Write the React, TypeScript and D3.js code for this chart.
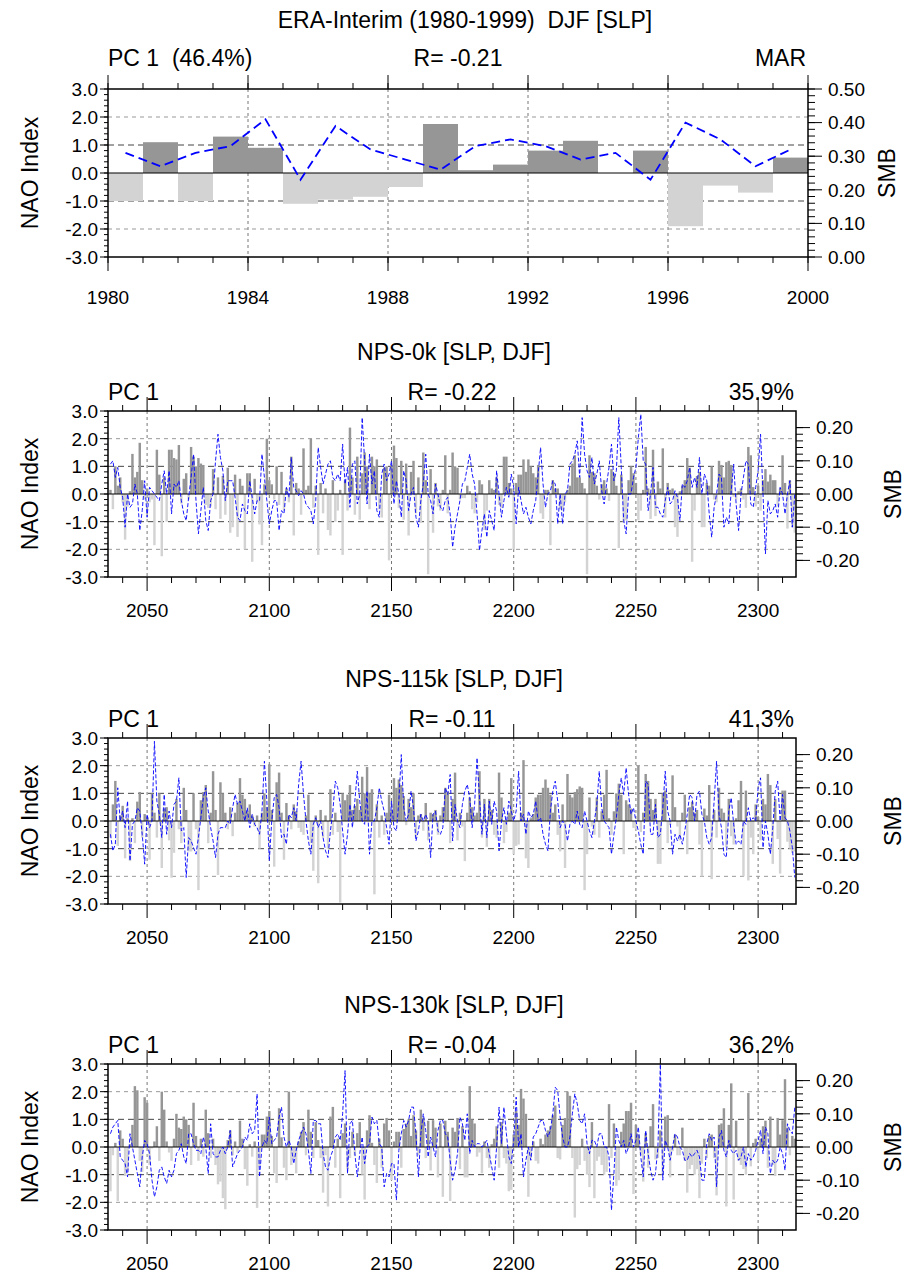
import React from 'react';
import * as d3 from 'd3';

const FONT = "'Liberation Sans', Arial, Helvetica, sans-serif";
const DARK = '#969696';
const LIGHT = '#d3d3d3';
const BLUE = '#0000ff';
const TXT = 23;
const TICK = 19;

// ERA-Interim, DJF 1980-1999
const eraYears = d3.range(1980, 2000);
const eraNao = [-1.0, 1.1, -1.0, 1.3, 0.9, -1.1, -0.95, -0.85, -0.5, 1.75,
  0.1, 0.3, 0.8, 1.15, 0.0, 0.8, -1.9, -0.45, -0.7, 0.55];
const eraSmb = [0.31, 0.27, 0.31, 0.33, 0.41, 0.23, 0.39, 0.32, 0.29, 0.26,
  0.33, 0.35, 0.33, 0.29, 0.31, 0.23, 0.4, 0.35, 0.27, 0.32];

// NPS runs, one value per year from 2035 to 2315
const npsStart = 2035;

const nps0kNao = [
  0.15, -0.55, 1.0, 0.3, 0.6, -0.3, -1.65, -0.45, 0.1, 1.45,
  0.6, 0.8, 1.85, 0.5, -0.2, 0.2, -0.3, -0.2, -1.85, 1.6,
  0.7, -2.25, 0.6, -1.0, 1.6, 1.6, 1.3, 1.25, 1.77, -0.35,
  0.55, 0.75, -0.2, 1.7, 1.35, 1.0, 1.3, 1.1, 1.05, -0.4,
  -0.5, -0.45, 0.9, -0.55, 0.6, -0.9, 0.65, -0.75, 0.95, -1.4,
  -1.2, 0.7, -1.55, 0.55, 0.3, -2.0, 0.75, 0.75, -2.45, 0.55,
  -0.3, -1.1, -1.85, 0.35, 2.0, 0.5, 0.35, -0.2, 1.0, -0.4,
  0.8, -0.6, 0.2, -0.3, 1.35, -1.5, 0.4, 0.2, -0.75, 1.65,
  0.15, 0.3, 2.0, -0.5, 0.3, -2.2, 0.4, -0.7, 0.2, -1.3,
  -1.5, 0.5, -1.0, -0.6, 0.15, -2.2, 0.5, -0.6, 2.4, 0.6,
  -0.75, 1.35, -0.93, 0.75, 1.5, 1.0, -0.55, 1.35, 1.0, 1.25,
  -0.55, -0.85, 0.95, 1.0, -2.4, 1.05, 1.75, 1.3, -0.5, 1.2,
  -0.93, 1.1, -1.5, 0.8, 1.2, -0.7, 0.6, -1.05, 1.5, 0.5,
  -2.9, 0.9, -1.4, 0.4, -0.45, -0.6, 0.15, 1.4, -0.7, 0.15,
  1.5, 1.0, 0.95, -0.2, -0.15, -0.15, 0.3, 0.1, -0.55, -0.7,
  -0.3, 0.5, 0.35, -1.3, -0.6, 0.5, 0.2, 0.15, 0.6, -0.4,
  -0.5, 1.35, 1.35, 0.4, 0.2, -2.0, 0.4, 0.7, 0.7, 1.25,
  0.8, 1.25, 1.0, 0.75, 0.6, 1.05, -0.7, -0.9, 0.15, 0.15,
  -1.85, 0.5, 0.2, 0.2, -0.55, -0.6, -0.3, 0.15, 0.3, 1.1,
  1.4, 0.6, 0.6, 0.4, 0.2, -2.9, 1.4, 0.8, 0.75, 0.3,
  -0.2, 0.35, 0.5, 0.2, -0.25, 0.9, 0.75, 0.3, -1.95, 0.7,
  -1.0, -0.95, 0.5, 1.0, 0.75, 0.4, -0.95, -0.6, 0.15, 1.7,
  0.2, -0.9, 1.6, -0.8, 0.45, 0.2, 1.65, -0.85, 0.4, 0.15,
  0.2, -1.2, -1.55, 0.1, 0.3, 0.5, 1.3, 0.95, -2.45, -0.6,
  0.65, 0.8, -1.2, -1.2, 0.4, 0.3, 1.0, -0.2, -0.3, 1.2,
  1.05, 0.6, 1.15, 1.2, 1.05, -0.1, -0.2, 0.1, 0.2, -0.2,
  -0.5, 1.7, 1.4, 0.25, -0.45, 0.3, -0.6, 0.5, 0.9, 0.45,
  0.7, 0.5, 0.5, -0.45, 0.2, 1.4, 0.4, -1.25, 0.5, -1.2,
  -1.4,
];
const nps0kSmb = [
  0.09, 0.10, 0.05, 0.08, 0.02, -0.01, -0.10, 0.0, -0.04, -0.03,
  0.03, 0.0, -0.11, -0.05, 0.04, -0.07, 0.02, 0.01, 0.0, -0.01,
  -0.02, 0.03, 0.07, 0.0, 0.07, -0.06, 0.03, 0.02, 0.04, -0.02,
  -0.06, -0.08, -0.01, 0.05, 0.12, -0.02, -0.12, -0.05, 0.02, -0.08,
  -0.11, -0.02, 0.0, 0.10, 0.18, 0.11, 0.07, -0.02, 0.04, 0.04,
  0.04, -0.01, -0.07, -0.08, -0.03, -0.05, -0.06, 0.04, -0.01, -0.06,
  -0.02, -0.02, 0.12, 0.05, -0.02, -0.09, -0.05, -0.02, -0.02, -0.11,
  -0.05, -0.06, 0.02, -0.01, 0.11, 0.02, 0.01, -0.005, 0.01, 0.0,
  -0.03, -0.04, -0.05, -0.09, -0.02, 0.14, 0.08, 0.03, 0.06, 0.09,
  0.10, 0.05, 0.04, 0.06, 0.04, 0.15, 0.03, 0.08, -0.04, 0.09,
  0.10, -0.03, 0.0, 0.23, 0.10, -0.03, 0.12, 0.03, 0.07, -0.05,
  -0.07, 0.06, 0.09, 0.04, 0.06, 0.10, -0.03, 0.04, 0.0, -0.07,
  0.07, 0.04, -0.05, 0.0, 0.02, -0.07, -0.10, -0.02, 0.03, 0.12,
  0.0, -0.02, -0.06, 0.03, 0.0, -0.04, -0.05, -0.02, -0.01, -0.06,
  -0.16, -0.10, -0.06, -0.02, 0.03, 0.04, 0.08, 0.12, 0.06, 0.03,
  -0.06, -0.17, -0.11, -0.06, -0.13, -0.05, -0.08, -0.11, 0.07, 0.0,
  -0.07, -0.02, 0.02, -0.01, 0.06, 0.02, -0.09, 0.02, -0.02, -0.06,
  -0.04, -0.07, -0.09, -0.05, -0.02, 0.06, 0.14, 0.03, -0.04, 0.0,
  0.01, 0.04, 0.03, -0.09, 0.0, -0.09, 0.0, 0.01, 0.09, 0.10,
  0.12, 0.16, 0.05, 0.23, 0.12, 0.07, 0.05, 0.11, 0.03, 0.06,
  0.10, 0.01, -0.03, 0.03, 0.08, 0.15, 0.04, 0.07, 0.23, 0.08,
  -0.08, -0.12, 0.0, 0.0, 0.05, 0.08, 0.17, 0.24, 0.10, 0.09,
  -0.05, 0.0, 0.08, -0.04, -0.04, -0.06, -0.07, -0.02, 0.02, -0.03,
  -0.02, 0.01, -0.01, -0.08, 0.03, 0.02, 0.04, 0.08, 0.02, 0.05,
  0.02, 0.11, 0.0, 0.06, 0.04, -0.06, -0.13, -0.04, 0.0, 0.06,
  0.05, -0.10, -0.07, -0.09, 0.01, 0.09, -0.03, -0.11, 0.0, 0.05,
  0.10, 0.09, -0.03, -0.04, 0.02, 0.07, 0.18, 0.0, -0.18, -0.02,
  -0.06, -0.05, -0.03, -0.07, 0.02, 0.0, -0.06, 0.0, 0.04, -0.10,
  0.0,
];

const nps115kNao = [
  -0.6, 0.6, 1.45, -0.9, 0.2, 0.55, -1.35, 0.1, -1.45, 0.1,
  -0.8, 0.7, 1.05, -0.6, 0.25, 0.15, -1.4, 1.0, 0.3, -0.6,
  1.0, -1.7, 0.45, 0.5, -0.7, -2.05, -1.15, 0.8, -0.3, -0.8,
  1.2, 0.4, -1.1, -1.1, 1.0, -0.3, -2.5, 0.75, 1.05, 1.3,
  -0.8, 0.3, 1.8, 0.4, -1.95, 1.4, 1.0, 0.3, -0.3, 0.5,
  -0.55, 0.3, 0.65, 1.55, 0.95, 0.8, 0.35, 0.6, 0.2, -0.2,
  0.2, -1.0, 0.3, 1.0, 0.5, 2.05, 0.4, -1.65, 1.4, 1.75,
  0.3, -1.4, 0.65, 0.2, -0.3, 0.6, 0.35, -0.25, -0.4, -0.5,
  0.2, 0.95, -0.8, -1.8, 0.2, -2.25, 0.4, -0.6, 0.2, -1.0,
  1.15, -0.5, 0.3, -0.4, -2.95, 1.0, 0.75, 0.95, 1.3, 0.4,
  0.55, 0.8, 0.4, 1.6, 1.0, 1.95, 1.0, 1.15, -2.65, 0.6,
  -0.6, 0.2, -0.5, 0.3, 0.95, 0.4, 1.55, 1.2, 1.5, 1.3,
  0.9, -0.15, 0.8, 0.5, 1.0, -0.6, 0.2, 0.25, -0.35, 0.65,
  -0.7, 0.3, 0.25, 0.4, -0.5, 0.2, 0.5, 1.2, 1.05, -0.8,
  0.8, 1.75, -0.7, 0.3, -0.2, -1.45, 0.3, 0.85, 0.5, 0.2,
  0.3, 1.8, -0.6, 0.8, -0.93, 0.8, 0.4, -0.5, -0.6, 1.75,
  0.85, -0.8, -0.4, 0.3, 1.55, -1.2, -0.9, -0.85, 0.3, 2.2,
  -1.35, -1.7, 0.1, 0.25, 0.85, 0.95, 0.95, 1.2, 1.5, 1.2,
  0.95, 0.3, 0.6, -0.5, -1.1, 0.6, -1.7, 1.7, 0.95, 0.85,
  1.05, 1.15, 1.25, 1.2, -2.5, -1.2, 0.85, -0.2, -0.5, 0.85,
  -0.6, 0.35, 0.95, 1.85, 0.1, -0.5, 0.35, 1.0, 1.35, 0.95,
  -1.2, 0.75, 0.6, 0.45, -0.25, -0.3, 2.0, -0.4, 0.3, 1.7,
  1.45, 0.8, 0.4, 0.8, -1.55, -1.55, 1.0, 1.1, -0.8, -0.15,
  1.65, 0.5, -0.2, -0.7, 0.3, 0.95, -1.2, 0.5, 0.7, 0.3,
  0.4, -0.85, -2.0, 0.45, 0.2, 1.3, -2.1, 0.4, -0.6, 1.2,
  0.45, 0.3, -0.95, 0.8, -0.55, -0.85, 0.1, 0.75, 1.45, -2.0,
  1.1, -2.15, -0.6, -1.2, 0.6, 0.15, -0.7, 0.8, 0.6, 1.7,
  1.3, -1.55, 0.8, -0.65, -1.9, 1.1, 1.1, -0.75, -1.0, -1.15,
  -1.1,
];
const nps115kSmb = [
  -0.04, -0.09, -0.07, 0.10, 0.0, 0.03, -0.02, 0.06, -0.12, -0.01,
  0.0, 0.04, 0.03, -0.04, -0.13, 0.02, -0.02, 0.0, 0.24, 0.06,
  0.02, -0.05, 0.08, -0.04, 0.03, -0.02, 0.05, 0.06, 0.13, -0.03,
  -0.02, -0.17, -0.05, -0.06, -0.08, -0.10, -0.05, 0.01, 0.07, 0.10,
  0.03, -0.02, -0.06, -0.11, -0.04, -0.02, -0.02, -0.02, 0.0, -0.01,
  0.04, 0.08, 0.05, 0.06, 0.03, 0.0, 0.04, -0.02, 0.02, -0.01,
  -0.02, -0.04, 0.03, 0.18, 0.06, -0.12, 0.0, 0.07, 0.08, 0.04,
  -0.05, -0.04, -0.07, 0.02, 0.01, 0.04, 0.0, 0.11, 0.18, 0.08,
  0.0, -0.06, -0.10, -0.01, 0.01, -0.02, 0.0, -0.05, -0.09, -0.11,
  -0.03, 0.03, 0.12, 0.10, 0.05, -0.03, -0.10, -0.04, 0.05, -0.02,
  0.06, 0.15, 0.06, 0.0, -0.01, 0.09, -0.10, 0.0, 0.0, 0.04,
  0.10, 0.06, 0.03, -0.02, -0.07, 0.06, -0.02, -0.03, 0.06, 0.20,
  0.04, 0.0, 0.02, 0.09, 0.04, -0.06, -0.03, 0.02, 0.0, 0.02,
  0.0, -0.11, 0.02, 0.03, -0.03, -0.04, -0.02, 0.10, 0.08, 0.14,
  -0.06, 0.05, 0.0, -0.02, 0.05, 0.09, 0.11, 0.07, -0.02, 0.05,
  0.19, 0.07, -0.04, 0.05, -0.05, 0.06, -0.01, 0.06, 0.03, -0.09,
  0.0, 0.04, -0.01, 0.06, 0.03, 0.0, 0.03, 0.15, 0.0, 0.02,
  -0.04, 0.03, 0.01, 0.02, 0.06, 0.0, 0.01, -0.04, -0.07, -0.09,
  0.03, 0.09, 0.12, 0.06, -0.02, 0.0, -0.01, -0.06, -0.01, 0.0,
  -0.01, 0.03, -0.01, -0.02, 0.03, 0.0, -0.03, -0.05, 0.0, 0.05,
  0.15, 0.04, 0.0, -0.01, -0.02, -0.10, -0.04, 0.01, 0.08, 0.13,
  0.08, 0.16, 0.08, 0.02, 0.04, 0.0, -0.03, -0.07, -0.10, 0.12,
  0.11, -0.04, -0.04, 0.05, -0.05, -0.04, 0.04, 0.15, 0.03, 0.0,
  -0.10, -0.04, -0.06, -0.04, -0.07, -0.03, 0.02, 0.08, 0.07, 0.0,
  0.08, 0.09, 0.02, 0.0, -0.05, -0.07, -0.05, 0.06, 0.18, 0.02,
  -0.02, -0.10, -0.11, 0.03, 0.07, -0.01, -0.07, -0.06, -0.07, 0.0,
  -0.01, 0.04, 0.0, 0.01, 0.0, 0.10, 0.13, -0.08, 0.0, -0.04,
  -0.10, -0.02, 0.09, 0.12, 0.0, 0.08, 0.01, 0.0, -0.03, -0.08,
  -0.17,
];

const nps130kNao = [
  -1.6, -0.3, 0.15, -1.95, 0.6, 0.3, -1.05, -0.9, 0.1, 0.8,
  2.2, 2.05, -0.5, -0.9, 1.8, 1.6, -0.65, -0.05, 0.2, 0.75,
  -0.5, 2.0, 1.35, 0.2, -0.2, -0.5, 0.3, 1.2, 0.7, 0.65,
  1.1, 1.0, 0.8, -0.65, 1.6, 0.4, -0.5, 0.3, -0.35, 1.35,
  0.5, -0.4, 0.3, -0.65, -1.35, -1.25, -1.85, -2.25, 0.25, 0.6,
  -0.3, 0.2, -0.2, 0.95, 0.3, -0.8, -1.4, 0.1, -0.35, 0.2,
  -2.2, -0.7, 0.45, 0.45, 1.1, 1.3, 0.4, -0.95, -1.3, 1.4,
  0.35, -0.75, -1.2, 2.0, -0.65, -0.4, -0.95, 0.2, 0.55, 0.9,
  -0.3, 1.35, 0.55, -0.4, 0.9, 0.25, -0.4, -1.65, -0.3, -2.15,
  1.1, 1.45, -0.75, 0.3, -1.85, 0.5, 0.85, -0.8, -0.4, 0.55,
  -0.3, 0.5, 0.9, -1.0, -1.9, 0.6, 1.15, 0.15, -0.65, -1.3,
  0.3, -0.75, 0.85, 1.05, 0.6, -1.2, 0.2, 0.55, 0.55, -0.75,
  0.65, 0.85, 1.0, 0.4, 1.15, 0.6, -0.3, 1.35, 1.05, -0.4,
  0.95, -0.85, 0.97, 0.7, -1.1, 0.85, -1.8, 0.95, 0.55, -1.95,
  0.7, 0.55, 1.05, -0.8, 0.75, -1.1, -1.1, 2.2, 1.0, 0.85,
  -0.35, -0.2, -0.95, 0.2, -0.4, -0.75, 0.1, 0.3, 0.75, -0.75,
  0.9, -0.4, -0.6, -1.6, -1.55, 0.45, 1.3, 0.8, 2.1, 1.75,
  1.2, -1.8, -0.4, 0.2, -0.5, -0.6, 0.3, 0.1, 0.45, 0.6,
  0.75, 1.15, 1.5, -0.4, -0.45, 0.8, 1.05, 2.0, 1.85, -0.4,
  -2.55, -0.8, -0.65, 0.3, -0.5, -1.0, -1.45, 0.9, -1.85, -0.5,
  -0.35, -0.65, -1.0, -0.9, 1.55, -0.4, 0.85, -1.4, -1.2, 0.55,
  0.85, 1.3, 1.3, 1.6, -1.7, 0.8, 0.45, -0.3, -1.25, 0.5,
  -0.75, 0.75, 1.55, -0.45, -0.4, 0.6, -1.0, 1.1, 1.15, -1.1,
  -0.15, 0.45, -0.3, -0.3, 0.7, -0.5, -1.65, -0.8, -0.65, -1.0,
  -0.8, -1.85, -0.6, 0.3, -0.4, 0.4, 0.45, -0.4, -1.75, 0.8,
  0.85, 1.4, -2.15, 0.8, 2.3, -1.9, 0.95, -0.5, -0.65, -0.8,
  -1.0, 1.95, -0.7, 0.15, 0.3, -0.5, 0.3, 0.75, 0.95, -0.75,
  1.1, -0.65, -1.05, 1.05, 0.45, 0.97, 2.45, 0.7, -0.3, 0.4,
  0.3,
];
const nps130kSmb = [
  0.04, 0.06, 0.07, 0.08, -0.03, -0.04, -0.05, -0.09, 0.04, 0.0,
  -0.04, -0.08, -0.12, -0.03, 0.02, 0.01, -0.02, -0.10, -0.15, -0.12,
  -0.07, -0.06, -0.09, -0.11, -0.07, -0.09, -0.07, -0.02, -0.01, 0.01,
  -0.03, -0.05, 0.04, 0.04, 0.01, -0.01, -0.01, -0.02, 0.03, 0.0,
  -0.08, 0.07, -0.02, -0.03, -0.03, -0.01, 0.0, -0.02, 0.0, 0.05,
  -0.06, -0.04, -0.02, -0.01, 0.0, 0.03, 0.02, 0.07, 0.04, 0.05,
  0.16, -0.09, 0.0, 0.02, 0.01, 0.09, 0.01, 0.02, 0.03, 0.09,
  0.12, 0.03, 0.0, 0.02, 0.0, -0.05, -0.01, 0.02, 0.04, 0.06,
  0.04, -0.01, -0.08, 0.08, 0.08, 0.07, 0.07, -0.02, -0.06, -0.07,
  -0.03, -0.01, 0.03, 0.04, 0.02, 0.10, 0.23, -0.08, 0.07, 0.08,
  -0.02, -0.09, -0.02, 0.03, -0.05, 0.0, 0.01, 0.09, 0.07, 0.08,
  0.01, 0.0, -0.12, -0.08, -0.09, -0.05, -0.05, -0.16, -0.01, 0.04,
  0.08, 0.06, 0.08, 0.12, 0.12, 0.04, -0.09, 0.04, 0.10, 0.05,
  -0.03, 0.03, 0.0, -0.03, 0.05, 0.08, 0.08, 0.04, 0.03, -0.04,
  -0.10, -0.07, -0.02, 0.09, 0.07, 0.02, 0.10, -0.02, 0.02, 0.0,
  0.01, 0.01, 0.0, 0.01, 0.02, -0.02, -0.06, -0.10, 0.0, 0.12,
  0.01, 0.12, 0.04, -0.03, -0.05, 0.02, 0.15, 0.0, 0.04, -0.09,
  -0.04, 0.0, -0.04, 0.03, 0.04, 0.06, 0.08, 0.08, 0.05, 0.03,
  0.05, 0.10, 0.18, 0.17, 0.09, 0.03, 0.0, 0.0, 0.03, 0.10,
  0.16, 0.13, 0.08, 0.07, 0.10, 0.01, -0.02, 0.02, 0.02, 0.0,
  0.04, 0.04, 0.0, 0.0, -0.03, -0.19, -0.08, 0.06, 0.02, 0.0,
  0.02, -0.02, 0.0, 0.04, 0.0, 0.02, 0.06, -0.03, -0.09, 0.05,
  -0.02, -0.07, -0.10, -0.08, 0.0, 0.25, -0.10, 0.02, 0.0, -0.04,
  0.0, 0.04, 0.03, 0.0, -0.01, -0.04, -0.04, -0.02, -0.03, -0.02,
  -0.01, -0.03, -0.10, -0.10, 0.01, 0.04, 0.02, 0.03, -0.12, 0.03,
  0.05, -0.01, -0.03, 0.02, -0.01, -0.02, -0.01, -0.04, -0.03, 0.0,
  -0.06, -0.02, -0.04, -0.03, -0.01, 0.02, 0.05, -0.02, 0.06, 0.04,
  -0.08, -0.04, -0.05, -0.04, 0.0, -0.02, -0.07, 0.07, 0.05, 0.04,
  0.12,
];

const npsPanels = [
  { title: 'NPS-0k [SLP, DJF]', r: 'R= -0.22', pct: '35.9%', nao: nps0kNao, smb: nps0kSmb, top: 411 },
  { title: 'NPS-115k [SLP, DJF]', r: 'R= -0.11', pct: '41.3%', nao: nps115kNao, smb: nps115kSmb, top: 738 },
  { title: 'NPS-130k [SLP, DJF]', r: 'R= -0.04', pct: '36.2%', nao: nps130kNao, smb: nps130kSmb, top: 1064 },
];

type Lin = d3.ScaleLinear<number, number>;

const naoMajors = d3.range(-3, 4);
const naoMinors = d3.range(-15, 16).map((i) => i / 5);

function LeftAxis({ y, x0 }: { y: Lin; x0: number }) {
  return (
    <g>
      {naoMinors.map((v, i) => (
        <line key={'n' + i} x1={x0} x2={x0 - 4} y1={y(v)} y2={y(v)} stroke="#000" />
      ))}
      {naoMajors.map((v) => (
        <g key={v}>
          <line x1={x0} x2={x0 - 8} y1={y(v)} y2={y(v)} stroke="#000" />
          <text x={x0 - 10} y={y(v)} dy="0.36em" textAnchor="end" fontSize={TICK}>{v.toFixed(1)}</text>
        </g>
      ))}
    </g>
  );
}

function RightAxis({ y, x0, lo, hi }: { y: Lin; x0: number; lo: number; hi: number }) {
  const majors = d3.range(lo, hi + 1).map((i) => i / 10);
  const minors = d3.range(lo * 5, hi * 5 + 1).map((i) => i / 50);
  const [d0, d1] = y.domain();
  return (
    <g>
      {minors.filter((v) => v >= d0 && v <= d1).map((v, i) => (
        <line key={'s' + i} x1={x0} x2={x0 + 7} y1={y(v)} y2={y(v)} stroke="#000" />
      ))}
      {majors.map((v) => (
        <g key={v}>
          <line x1={x0} x2={x0 + 14} y1={y(v)} y2={y(v)} stroke="#000" />
          <text x={x0 + 20} y={y(v)} dy="0.36em" fontSize={TICK}>{v.toFixed(2)}</text>
        </g>
      ))}
    </g>
  );
}

function XTicks({ x, y0, y1, majors, minors, labelY }: {
  x: Lin; y0: number; y1: number; majors: number[]; minors: number[]; labelY: number;
}) {
  return (
    <g>
      {minors.map((v) => (
        <g key={'m' + v}>
          <line x1={x(v)} x2={x(v)} y1={y1} y2={y1 + 6} stroke="#000" />
          <line x1={x(v)} x2={x(v)} y1={y0} y2={y0 - 6} stroke="#000" />
        </g>
      ))}
      {majors.map((v) => (
        <g key={'M' + v}>
          <line x1={x(v)} x2={x(v)} y1={y1} y2={y1 + 14} stroke="#000" />
          <line x1={x(v)} x2={x(v)} y1={y0} y2={y0 - 14} stroke="#000" />
          <text x={x(v)} y={labelY} textAnchor="middle" fontSize={TICK}>{v}</text>
        </g>
      ))}
    </g>
  );
}

function Grid({ x, y, x0, x1, vlines }: { x: Lin; y: Lin; x0: number; x1: number; vlines: number[] }) {
  const [y0, y1] = [y(3), y(-3)];
  return (
    <g>
      {vlines.map((v) => (
        <line key={v} x1={x(v)} x2={x(v)} y1={y0} y2={y1} stroke="#777" strokeDasharray="3,3" />
      ))}
      {[-2, 2].map((v) => (
        <line key={v} x1={x0} x2={x1} y1={y(v)} y2={y(v)} stroke="#999" strokeDasharray="4,4" />
      ))}
      {[-1, 1].map((v) => (
        <line key={v} x1={x0} x2={x1} y1={y(v)} y2={y(v)} stroke="#444" strokeDasharray="6,4" />
      ))}
    </g>
  );
}

function EraPanel() {
  const left = 108, right = 808, top = 89, bottom = 257;
  const x = d3.scaleLinear().domain([1980, 2000]).range([left, right]);
  const y = d3.scaleLinear().domain([-3, 3]).range([bottom, top]);
  const ys = d3.scaleLinear().domain([0, 0.5]).range([bottom, top]);
  const line = d3.line<number>().x((_, i) => x(eraYears[i] + 0.5)).y((d) => ys(d));
  const mid = (left + right) / 2;
  return (
    <g>
      <text x={465} y={28} textAnchor="middle" fontSize={TXT} style={{ whiteSpace: 'pre' }}>
        {'ERA-Interim (1980-1999)  DJF [SLP]'}
      </text>
      <text x={left} y={66} fontSize={TXT} style={{ whiteSpace: 'pre' }}>{'PC 1  (46.4%)'}</text>
      <text x={mid} y={66} textAnchor="middle" fontSize={TXT}>R= -0.21</text>
      <text x={right - 2} y={66} textAnchor="end" fontSize={TXT}>MAR</text>
      <Grid x={x} y={y} x0={left} x1={right} vlines={[1984, 1988, 1992, 1996]} />
      {eraNao.map((v, i) => (
        <rect key={i} x={x(eraYears[i])} width={x(eraYears[i] + 1) - x(eraYears[i])}
          y={Math.min(y(v), y(0))} height={Math.abs(y(v) - y(0))} fill={v >= 0 ? DARK : LIGHT} />
      ))}
      <line x1={left} x2={right} y1={y(0)} y2={y(0)} stroke="#000" />
      <path d={line(eraSmb) || ''} fill="none" stroke={BLUE} strokeWidth={1.8} strokeDasharray="9,5" />
      <rect x={left} y={top} width={right - left} height={bottom - top} fill="none" stroke="#000" strokeWidth={1.5} />
      <XTicks x={x} y0={top} y1={bottom} majors={d3.range(1980, 2001, 4)}
        minors={d3.range(1980, 2001)} labelY={304} />
      <LeftAxis y={y} x0={left} />
      <RightAxis y={ys} x0={right} lo={0} hi={5} />
      <text transform={`translate(38,${(top + bottom) / 2}) rotate(-90)`} textAnchor="middle" fontSize={TXT}>NAO Index</text>
      <text transform={`translate(895,${(top + bottom) / 2}) rotate(-90)`} textAnchor="middle" fontSize={TXT}>SMB</text>
    </g>
  );
}

function NpsPanel({ title, r, pct, nao, smb, top }: {
  title: string; r: string; pct: string; nao: number[]; smb: number[]; top: number;
}) {
  const left = 108, right = 796, bottom = top + 166;
  const x = d3.scaleLinear().domain([2034, 2315.5]).range([left, right]);
  const y = d3.scaleLinear().domain([-3, 3]).range([bottom, top]);
  const ys = d3.scaleLinear().domain([-0.25, 0.25]).range([bottom, top]);
  const yr = (i: number) => npsStart + i;
  const line = d3.line<number>().x((_, i) => x(yr(i))).y((d) => ys(d));
  const mid = (left + right) / 2;
  return (
    <g>
      <text x={mid + 2} y={top - 51} textAnchor="middle" fontSize={TXT}>{title}</text>
      <text x={left} y={top - 11} fontSize={TXT}>PC 1</text>
      <text x={mid} y={top - 11} textAnchor="middle" fontSize={TXT}>{r}</text>
      <text x={right - 2} y={top - 11} textAnchor="end" fontSize={TXT}>{pct}</text>
      <Grid x={x} y={y} x0={left} x1={right} vlines={d3.range(2050, 2301, 50)} />
      {nao.map((v, i) => (
        <rect key={i} x={x(yr(i) - 0.5)} width={x(yr(i) + 0.5) - x(yr(i) - 0.5)}
          y={Math.min(y(v), y(0))} height={Math.abs(y(v) - y(0))} fill={v >= 0 ? DARK : LIGHT} />
      ))}
      <line x1={left} x2={right} y1={y(0)} y2={y(0)} stroke="#000" />
      <path d={line(smb) || ''} fill="none" stroke={BLUE} strokeWidth={0.9} strokeDasharray="4,2" />
      <rect x={left} y={top} width={right - left} height={bottom - top} fill="none" stroke="#000" strokeWidth={1.5} />
      <XTicks x={x} y0={top} y1={bottom} majors={d3.range(2050, 2301, 50)}
        minors={d3.range(2040, 2311, 10).filter((v) => v % 50 !== 0)} labelY={bottom + 40} />
      <LeftAxis y={y} x0={left} />
      <RightAxis y={ys} x0={right} lo={-2} hi={2} />
      <text transform={`translate(38,${(top + bottom) / 2}) rotate(-90)`} textAnchor="middle" fontSize={TXT}>NAO Index</text>
      <text transform={`translate(901,${(top + bottom) / 2}) rotate(-90)`} textAnchor="middle" fontSize={TXT}>SMB</text>
    </g>
  );
}

export default function App() {
  return (
    <svg width={907} height={1278} style={{ position: 'absolute', left: 0, top: 0, background: '#fff' }}
      fontFamily={FONT}>
      <EraPanel />
      {npsPanels.map((p) => (
        <NpsPanel key={p.title} {...p} />
      ))}
    </svg>
  );
}
